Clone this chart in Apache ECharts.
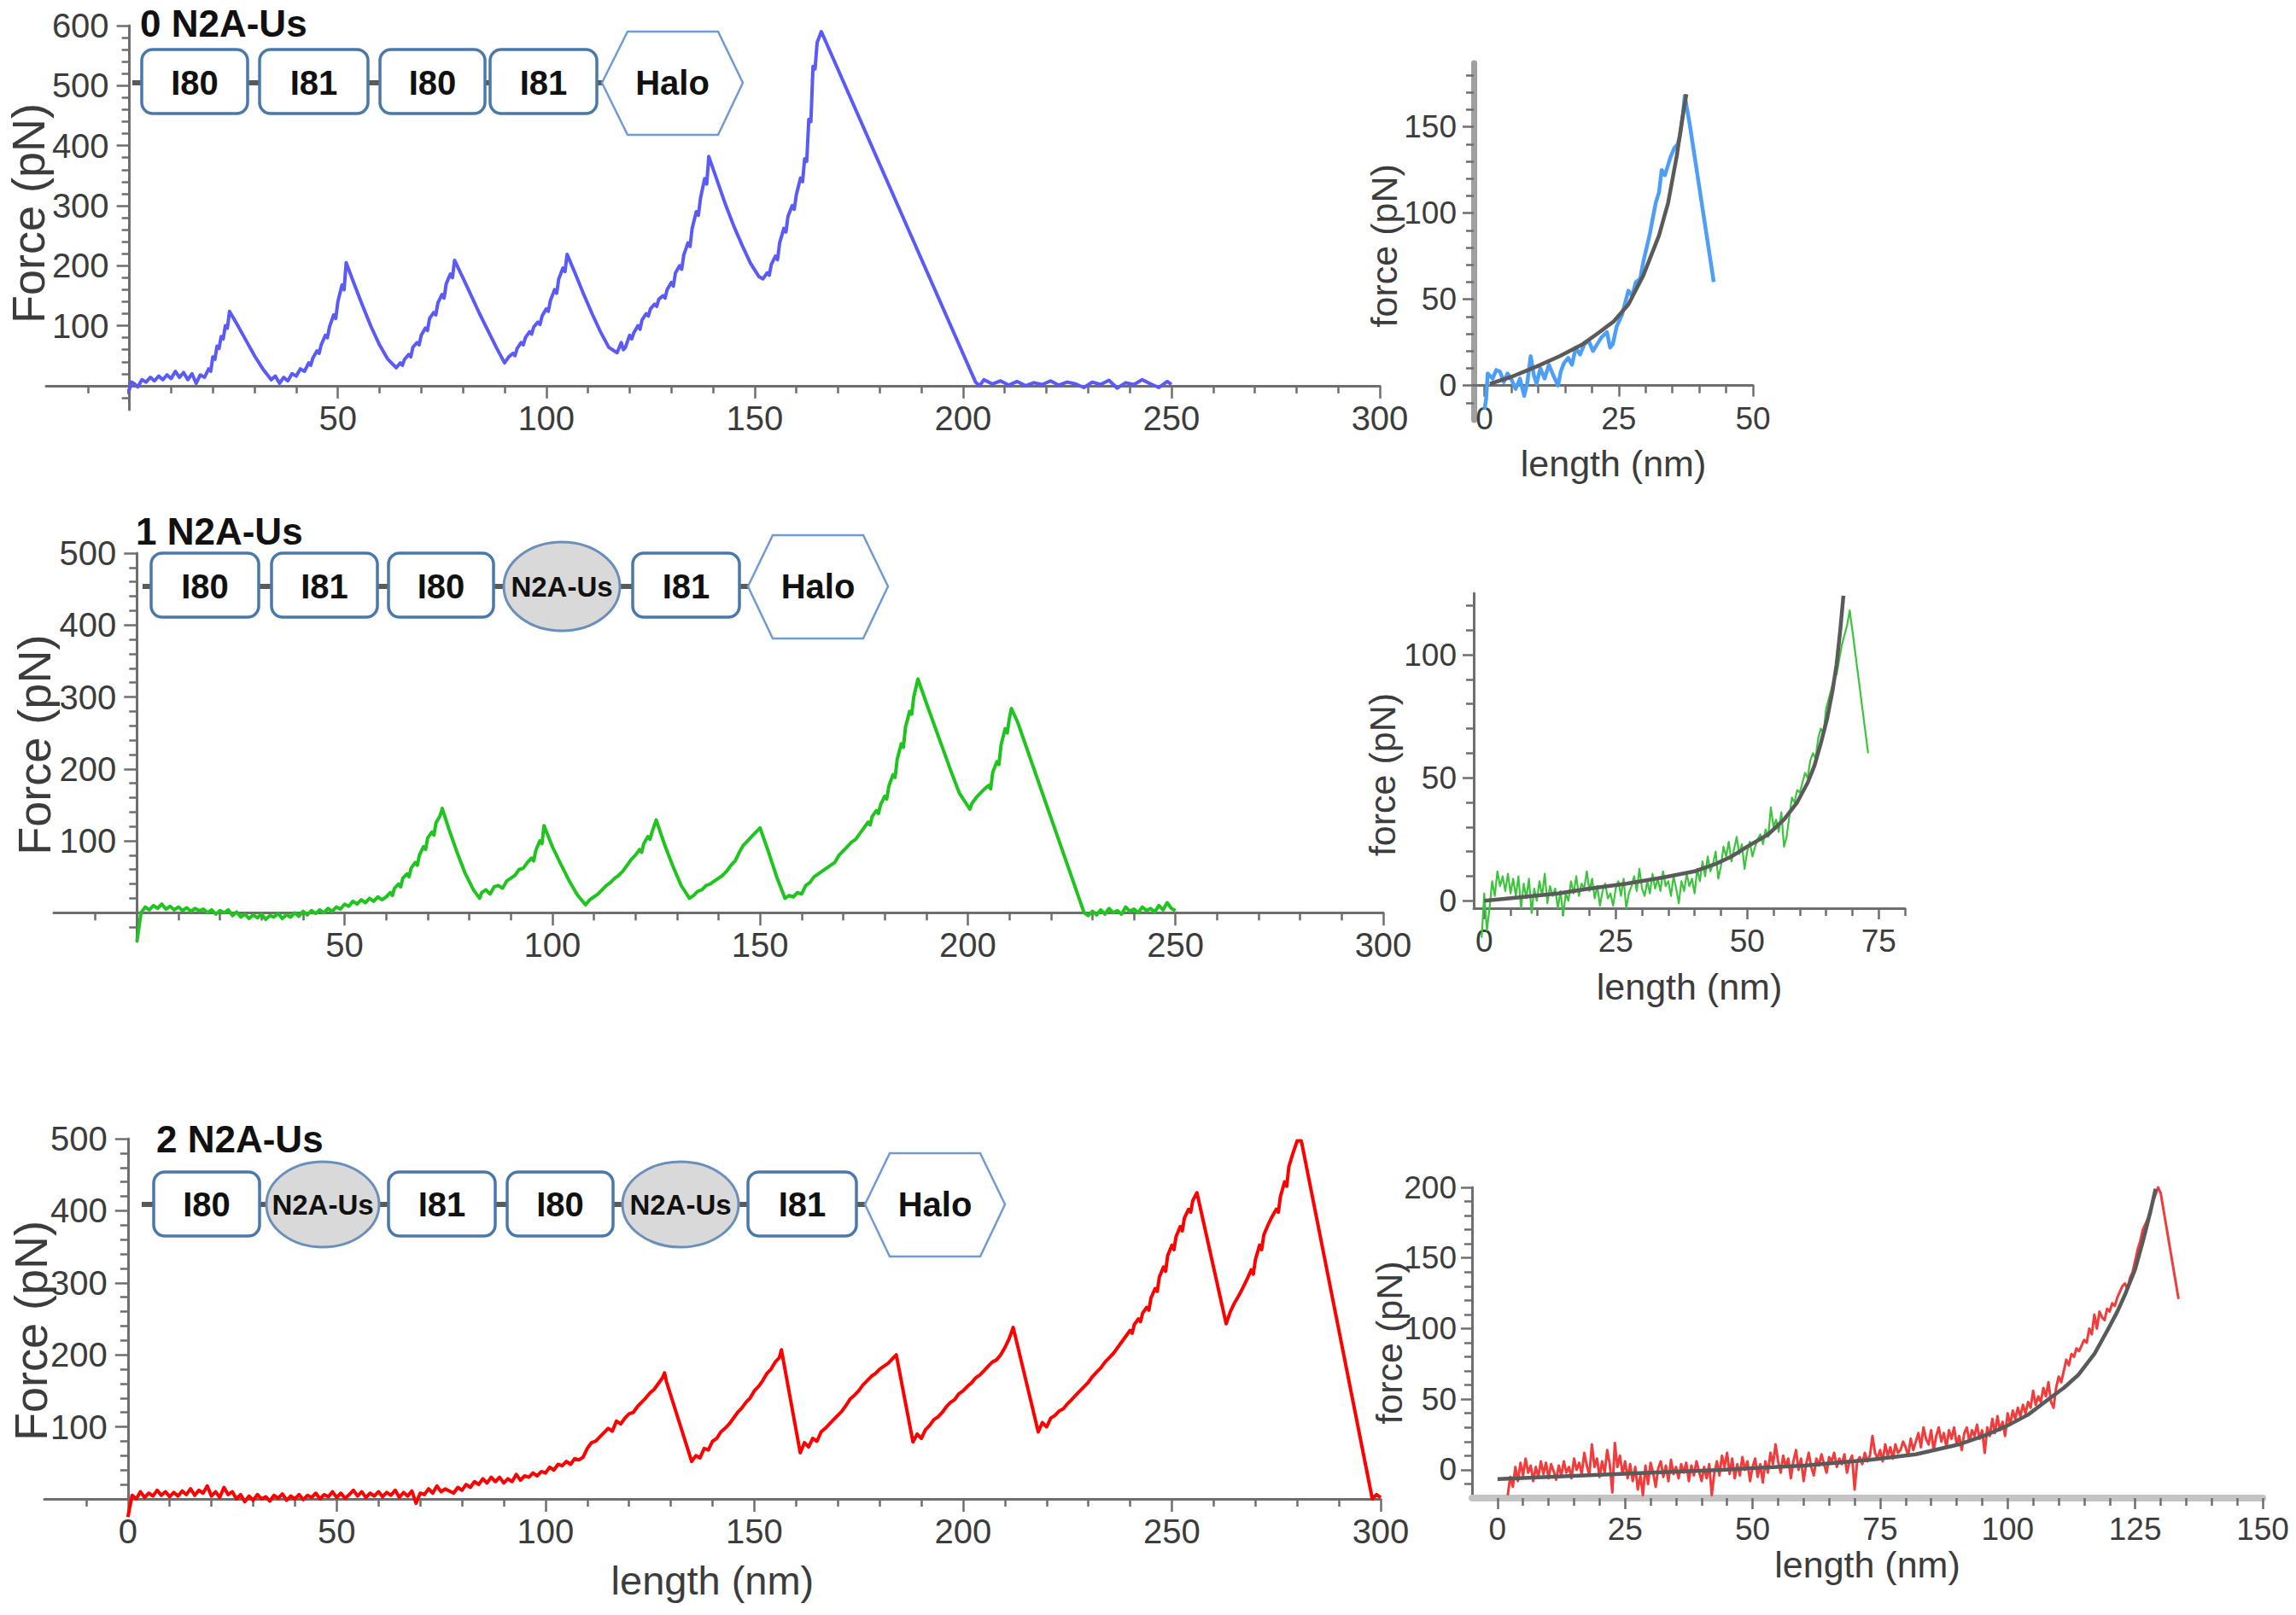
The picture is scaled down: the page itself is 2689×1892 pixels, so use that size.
<!DOCTYPE html>
<html>
<head>
<meta charset="utf-8">
<script src="https://cdn.jsdelivr.net/npm/echarts@6/dist/echarts.min.js"></script>
<style>
html,body{margin:0;padding:0;background:#fff;}
#c{width:2689px;height:1892px;}
</style>
</head>
<body>
<div id="c"></div>
<script>
// ---------------- DATA ----------------
// Panel A: 0 N2A-Us full trace  [length nm, force pN]
const traceZeroUs = [[-2,-26],[-1,-14],[0,-6],[0.5,6],[1,4],[2,-2],[3,10],[4,6],[5,14],[6,8],[7,16],[8,10],[9,18],[10,12],[11,24],[12,14],[13,22],[14,10],[15,20],[16,4],[17,18],[18,14],[19,28],[19.5,24],[20,48],[20.5,44],[21,66],[21.5,62],[22,82],[22.5,78],[23,100],[23.5,96],[24,124],[26,100],[28,75],[30,50],[32,28],[34,10],[35,16],[36,4],[37,14],[38,8],[39,20],[40,16],[41,28],[42,24],[43,38],[43.5,34],[44,46],[45,58],[45.5,54],[46,68],[47,84],[47.5,80],[48,98],[49,118],[49.5,112],[50,140],[51,168],[51.5,160],[52,205],[54,168],[56,132],[58,98],[60,68],[62,44],[64,30],[65,38],[65.5,34],[66,44],[67,52],[67.5,48],[68,64],[69,72],[69.5,68],[70,84],[71,96],[71.5,92],[72,112],[73,122],[73.5,118],[74,138],[75,152],[75.5,146],[76,170],[77,186],[77.5,180],[78,209],[80,180],[82,150],[84,120],[86,92],[88,64],[90,38],[91,48],[92,54],[92.5,50],[93,62],[94,72],[94.5,68],[95,80],[96,90],[96.5,86],[97,98],[98,106],[98.5,102],[99,116],[100,128],[100.5,124],[101,142],[102,160],[102.5,154],[103,178],[104,196],[104.5,190],[105,219],[107,186],[109,152],[111,120],[113,90],[115,64],[117,55],[118,72],[118.5,60],[119,64],[120,84],[120.5,78],[121,88],[122,100],[122.5,94],[123,110],[124,120],[124.5,116],[125,128],[126,136],[126.5,132],[127,144],[128,150],[128.5,146],[129,160],[130,172],[130.5,166],[131,188],[132,200],[132.5,194],[133,218],[134,238],[134.5,232],[135,262],[136,290],[136.5,284],[137,312],[138,345],[138.5,336],[139,382],[141,342],[143,302],[145,266],[147,234],[149,204],[151,182],[152,178],[153,188],[153.5,184],[154,202],[155,216],[155.5,210],[156,238],[157,262],[157.5,256],[158,282],[159,300],[159.5,294],[160,318],[161,346],[161.5,340],[162,378],[162.5,374],[163,444],[163.5,440],[164,532],[164.5,528],[165,572],[166,590],[203,6],[204,0],[205,10],[207,3],[209,8],[211,1],[213,7],[215,0],[217,5],[219,2],[221,8],[223,1],[225,6],[227,3],[229,-3],[231,6],[233,2],[235,9],[237,-4],[239,5],[241,2],[243,10],[245,3],[247,-3],[249,7],[250,2]];
// Panel A inset: single unfolding event + WLC fit
const insetZeroUs = [[0,-14],[0.3,-8],[0.6,7],[1.5,4],[2.2,9],[2.9,8],[3.6,2],[4.3,7],[5.1,3],[5.8,-2],[6.6,4],[7.4,-6],[8,2],[8.6,17],[9.2,6],[9.7,1],[10.4,10],[11.2,4],[12,12],[12.8,6],[13.7,0],[14.2,8],[14.8,13],[15.6,16],[16.3,12],[17,22],[17.8,18],[18.6,24],[19.4,26],[20.2,20],[21,24],[21.8,28],[22.8,31],[23.4,22],[23.9,24],[24.6,34],[25.6,41],[26.2,48],[26.8,55],[27.5,52],[28.2,60],[29,62],[29.6,72],[30.2,80],[30.8,88],[31.4,98],[31.9,106],[32.5,112],[33,125],[33.6,122],[34.2,128],[34.7,133],[35.4,138],[36,140],[36.4,145],[37,158],[37.3,168],[38.2,152],[42.7,60]];
const fitZeroUs = [[1,1],[5,5],[9.7,11],[14,17],[18.3,24],[21,30],[24,37],[26.8,47],[29.6,64],[32.5,87],[34.2,106],[35.8,133],[37,158],[37.6,169]];

// Panel B: 1 N2A-Us
const traceOneUs = [[0,-40],[0.5,-20],[1,0],[2,8],[3,4],[4,10],[5,6],[6,12],[7,5],[8,9],[9,4],[10,8],[11,3],[12,7],[13,2],[14,6],[15,3],[16,5],[17,0],[18,4],[19,-2],[20,3],[21,0],[22,4],[23,-4],[24,1],[25,-6],[26,-2],[27,-8],[28,-3],[29,-7],[30,-2],[31,-9],[32,-4],[33,-6],[34,-1],[35,-8],[36,-3],[37,-6],[38,0],[39,-5],[40,2],[41,-3],[42,3],[43,-1],[44,4],[45,0],[46,6],[47,2],[48,8],[49,5],[50,12],[51,9],[52,16],[53,12],[54,18],[55,14],[56,20],[57,16],[58,22],[59,18],[60,22],[61,28],[61.5,24],[62,34],[63,40],[63.5,36],[64,48],[65,54],[65.5,50],[66,62],[67,70],[67.5,66],[68,80],[69,92],[69.5,88],[70,104],[71,112],[71.5,108],[72,125],[73,135],[73.5,145],[75,118],[77,85],[79,55],[81,32],[82.5,20],[83,28],[84,32],[85,26],[86,36],[87,38],[88,34],[89,44],[90,48],[91,52],[92,60],[93,62],[94,70],[95,76],[95.5,72],[96,86],[97,100],[97.5,96],[98,121],[100,92],[102,68],[104,45],[106,25],[108,11],[109,18],[110,22],[111,26],[112,32],[113,38],[114,42],[115,48],[116,52],[117,58],[118,66],[119,74],[120,80],[121,88],[121.5,84],[122,96],[123,106],[123.5,102],[124,112],[125,129],[127,95],[129,65],[131,38],[133,20],[134,24],[135,30],[136,32],[137,38],[138,40],[139,44],[140,48],[141,52],[142,58],[143,66],[144,72],[145,84],[146,94],[147,100],[148,106],[149,112],[150,118],[152,85],[154,50],[156,20],[157,24],[158,22],[159,28],[160,26],[161,38],[162,42],[163,50],[164,54],[165,58],[166,62],[167,66],[168,70],[169,80],[170,86],[171,92],[172,98],[173,102],[174,110],[175,118],[176,126],[176.5,122],[177,134],[178,142],[178.5,138],[179,150],[180,162],[180.5,158],[181,176],[182,192],[182.5,188],[183,213],[184,235],[184.5,230],[185,258],[186,280],[186.5,276],[187,300],[188,325],[190,292],[192,260],[194,228],[196,196],[198,166],[200.5,144],[201,152],[202,160],[203,166],[204,172],[205,177],[205.5,172],[206,195],[207,210],[207.5,206],[208,233],[209,256],[209.5,250],[210,270],[210.5,284],[212,265],[228,0],[229,-4],[230,2],[231,-3],[232,4],[233,-2],[234,6],[235,0],[236,3],[237,-2],[238,8],[239,2],[240,5],[241,0],[242,8],[243,3],[244,6],[245,1],[246,10],[247,4],[248,14],[249,6],[250,3]];
const insetOneUs = [[-0.5,-15],[0,3],[0.5,-12],[1,-3],[1.5,8],[2,2],[2.5,12],[3,6],[3.5,10],[4,4],[4.5,11],[5,3],[5.5,9],[6,2],[6.5,10],[7,-3],[7.5,7],[8,1],[8.5,9],[9,-5],[9.5,5],[10,0],[10.5,8],[11,2],[11.5,11],[12,-1],[12.5,6],[13,2],[13.5,5],[14,-3],[14.5,4],[15,-6],[15.5,3],[16,0],[16.5,8],[17,3],[17.5,10],[18,2],[18.5,7],[19,5],[19.5,12],[20,4],[20.5,9],[21,1],[21.5,6],[22,-2],[22.5,4],[23,7],[23.5,1],[24,3],[24.5,-2],[25,5],[25.5,8],[26,2],[26.5,9],[27,-3],[27.5,3],[28,6],[28.5,10],[29,4],[29.5,13],[30,5],[30.5,2],[31,8],[31.5,3],[32,11],[32.5,5],[33,9],[33.5,4],[34,12],[34.5,6],[35,8],[35.5,2],[36,10],[36.5,5],[37,-1],[37.5,8],[38,4],[38.5,11],[39,6],[39.5,9],[40,3],[40.5,13],[41,8],[41.5,16],[42,10],[42.5,18],[43,12],[43.5,15],[44,20],[44.5,9],[45,14],[45.5,22],[46,18],[46.5,24],[47,16],[47.5,21],[48,26],[48.5,19],[49,23],[49.5,13],[50,20],[50.5,24],[51,18],[51.5,22],[52,25],[52.5,27],[53,23],[53.5,29],[54,26],[54.5,38],[55,30],[55.5,33],[56,28],[56.5,36],[57,22],[57.5,26],[58,34],[58.5,42],[59,40],[59.5,45],[60,44],[60.5,48],[61,52],[61.5,50],[62,57],[62.5,60],[63,58],[63.5,66],[64,70],[64.5,68],[65,78],[65.5,82],[66,86],[66.5,90],[67,92],[67.5,98],[68,104],[68.5,108],[69,112],[69.5,118],[70,110],[73,60]];
const fitOneUs = [[0,0],[7,1.5],[14,3],[20,5],[27,7],[34,9.5],[40,12],[44,15],[47,18],[50,22],[54,27],[57,33],[59.5,40],[61.5,48],[62.8,55],[64,64],[65.2,74],[66.2,85],[67,96],[67.7,110],[68.3,124]];

// Panel C: 2 N2A-Us
const traceTwoUs = [[0,-25],[0.5,-10],[1,5],[2,0],[3,10],[4,2],[5,8],[6,4],[7,12],[8,5],[9,10],[10,3],[11,9],[12,4],[13,11],[14,6],[15,14],[16,5],[17,12],[18,8],[19,18],[20,4],[21,10],[22,2],[23,16],[24,6],[25,10],[26,0],[27,6],[28,-4],[29,4],[30,-2],[31,6],[32,0],[33,3],[34,-3],[35,5],[36,1],[37,7],[38,-2],[39,4],[40,0],[41,6],[42,-1],[43,5],[44,2],[45,8],[46,0],[47,6],[48,3],[49,10],[50,2],[51,8],[52,1],[53,6],[54,12],[55,4],[56,10],[57,2],[58,8],[59,4],[60,10],[61,3],[62,9],[63,5],[64,12],[65,2],[66,9],[67,4],[68,11],[69,-6],[70,8],[71,6],[72,14],[73,8],[74,18],[75,10],[76,14],[77,11],[78,8],[79,16],[80,12],[81,20],[82,16],[83,24],[84,20],[85,28],[86,22],[87,30],[88,24],[89,30],[90,22],[91,28],[92,24],[93,34],[94,26],[95,32],[96,30],[97,36],[98,32],[99,38],[100,36],[101,44],[102,40],[103,48],[104,46],[105,52],[106,48],[107,56],[108,54],[109,58],[110,70],[111,78],[112,80],[113,86],[114,92],[115,98],[116,94],[117,108],[118,104],[119,112],[120,118],[121,120],[122,128],[123,134],[124,140],[125,147],[126,152],[127,160],[128,168],[128.5,175],[129,162],[135,52],[136,60],[137,57],[138,70],[139,68],[140,80],[141,84],[142,93],[143,98],[144,104],[145,112],[146,120],[147,126],[148,134],[149,140],[150,150],[151,156],[152,164],[153,174],[154,180],[155,190],[156,196],[156.5,207],[161,64],[162,78],[163,72],[164,84],[165,80],[166,93],[167,98],[168,104],[169,110],[170,116],[171,122],[172,130],[173,139],[174,144],[175,150],[176,158],[177,164],[178,170],[179,174],[180,180],[181,184],[182,188],[183,194],[184,200],[188,79],[189,90],[190,84],[191,96],[192,102],[193,110],[194,114],[195,120],[196,128],[197,134],[198,138],[199,146],[200,150],[201,156],[202,161],[203,168],[204,172],[205,178],[206,184],[207,190],[208,193],[209,200],[210,210],[211,222],[212,238],[218,93],[219,106],[220,100],[221,112],[222,116],[223,122],[224,125],[225,132],[226,138],[227,144],[228,150],[229,156],[230,162],[231,170],[232,176],[233,182],[234,190],[235,196],[236,202],[237,210],[238,218],[239,226],[240,234],[240.5,230],[241,242],[242,250],[242.5,246],[243,258],[244,266],[244.5,262],[245,279],[246,292],[246.5,288],[247,308],[248,322],[248.5,316],[249,338],[250,352],[250.5,346],[251,364],[252,378],[252.5,372],[253,390],[254,402],[254.5,398],[255,414],[256,425],[263,243],[264,260],[265,272],[266,282],[267,293],[268,305],[269,318],[269.5,312],[270,332],[271,352],[271.5,346],[272,366],[273,380],[274,392],[275,402],[275.5,398],[276,420],[277,440],[277.5,434],[278,461],[279,480],[280,497],[281,497],[298,0],[299,6],[300,2]];
const insetTwoUs = [[2,-18],[2.5,-5],[3,-12],[3.5,2],[4,-8],[4.5,5],[5,-4],[5.5,8],[6,-2],[6.5,3],[7,-8],[7.5,2],[8,-5],[8.5,6],[9,-3],[9.5,5],[10,-6],[10.5,4],[11,-1],[11.5,-7],[12,3],[12.5,-4],[13,6],[13.5,-2],[14,2],[14.5,-6],[15,8],[15.5,0],[16,5],[16.5,-3],[17,12],[17.5,3],[18,-4],[18.5,18],[19,2],[19.5,8],[20,-5],[20.5,6],[21,-2],[21.5,14],[22,4],[22.5,-16],[23,19],[23.5,2],[24,10],[24.5,-3],[25,6],[25.5,-6],[26,4],[26.5,-8],[27,2],[27.5,-14],[28,-4],[28.5,-18],[29,3],[29.5,-10],[30,5],[30.5,-2],[31,-12],[31.5,1],[32,6],[32.5,-5],[33,3],[33.5,-8],[34,7],[34.5,-3],[35,2],[35.5,-6],[36,4],[36.5,-2],[37,5],[37.5,-8],[38,3],[38.5,-4],[39,6],[39.5,-1],[40,-8],[40.5,2],[41,-6],[41.5,4],[42,-18],[42.5,-2],[43,6],[43.5,-4],[44,10],[44.5,2],[45,12],[45.5,-3],[46,8],[46.5,-6],[47,4],[47.5,-4],[48,9],[48.5,0],[49,6],[49.5,-8],[50,2],[50.5,8],[51,-5],[51.5,4],[52,-9],[52.5,6],[53,-2],[53.5,12],[54,4],[54.5,18],[55,6],[55.5,-2],[56,10],[56.5,2],[57,8],[57.5,-6],[58,6],[58.5,14],[59,0],[59.5,8],[60,-8],[60.5,4],[61,12],[61.5,2],[62,-4],[62.5,8],[63,3],[63.5,11],[64,4],[64.5,-2],[65,9],[65.5,6],[66,12],[66.5,2],[67,8],[67.5,4],[68,11],[68.5,-2],[69,6],[69.5,10],[70,-14],[70.5,6],[71,9],[71.5,4],[72,12],[72.5,6],[73,10],[73.5,24],[74,12],[74.5,8],[75,14],[75.5,6],[76,18],[76.5,10],[77,16],[77.5,8],[78,18],[78.5,12],[79,14],[79.5,20],[80,16],[80.5,10],[81,22],[81.5,14],[82,20],[82.5,26],[83,16],[83.5,30],[84,22],[84.5,18],[85,28],[85.5,14],[86,24],[86.5,30],[87,20],[87.5,26],[88,16],[88.5,28],[89,22],[89.5,30],[90,18],[90.5,24],[91,14],[91.5,26],[92,30],[92.5,20],[93,28],[93.5,24],[94,32],[94.5,22],[95,28],[95.5,12],[96,30],[96.5,24],[97,36],[97.5,26],[98,38],[98.5,28],[99,34],[99.5,24],[100,40],[100.5,32],[101,42],[101.5,36],[102,44],[102.5,38],[103,46],[103.5,40],[104,48],[104.5,44],[105,56],[105.5,46],[106,52],[106.5,48],[107,58],[107.5,52],[108,62],[108.5,48],[109,44],[109.5,58],[110,66],[110.5,62],[111,70],[111.5,78],[112,74],[112.5,82],[113,80],[113.5,86],[114,84],[114.5,88],[115,92],[115.5,90],[116,100],[116.5,96],[117,110],[117.5,100],[118,112],[118.5,108],[119,106],[119.5,114],[120,112],[120.5,118],[121,116],[121.5,122],[122,126],[122.5,130],[123,132],[123.5,128],[124,136],[124.5,140],[125,148],[125.5,156],[126,162],[126.5,170],[127,174],[127.5,178],[128,184],[128.5,190],[129,195],[129.5,200],[130,196],[133.5,121]];
const fitTwoUs = [[0,-6.6],[10,-5],[20,-3.5],[30,-2],[44,0],[60,3],[73,7],[82,11],[90.5,18],[96,25],[99.8,31],[104,39],[108,50],[111,58],[113.8,67],[117,82],[119.6,99],[121.5,112],[123,124],[125,142],[126.6,163],[128,183],[129,199]];

// Tick labels
const mainXLabelsA = [50,100,150,200,250,300];
const mainXLabelsC = [0,50,100,150,200,250,300];
const mainYLabelsA = [100,200,300,400,500,600];
const mainYLabelsBC = [100,200,300,400,500];
const insetXLabelsA = [0,25,50];
const insetXLabelsB = [0,25,50,75];
const insetXLabelsC = [0,25,50,75,100,125,150];
const insetYLabelsA = [0,50,100,150];
const insetYLabelsB = [0,50,100];
const insetYLabelsC = [0,50,100,150,200];

// Titles and domain names
const panelTitles = ['0 N2A-Us','1 N2A-Us','2 N2A-Us'];
const domainsA = ['I80','I81','I80','I81','Halo'];
const domainsB = ['I80','I81','I80','N2A-Us','I81','Halo'];
const domainsC = ['I80','N2A-Us','I81','I80','N2A-Us','I81','Halo'];

// ---------------- helpers ----------------
const FONT = 'Liberation Sans, Arial, sans-serif';
function steps(from, to, step, skip) {
  const out = [];
  for (let v = from; v <= to + 1e-9; v += step) {
    const r = Math.round(v * 1000) / 1000;
    if (!skip || skip.indexOf(r) < 0) out.push(r);
  }
  return out;
}

// Each panel: an outer frame (full axis extent incl. negative stubs, minor ticks)
// and an inner grid (labelled axes starting where labels sit).
const panels = [
  {frame:{left:54, top:30, width:1562, height:450}, fx:[-20,300], fy:[-40,600], ix:[0,300], iy:[0,600],
   xOnZero:true, yOnZero:true,
   xMaj:mainXLabelsA, xLab:mainXLabelsA, xMin:steps(-10,290,10,[0,50,100,150,200,250]),
   yMaj:mainYLabelsA, yLab:mainYLabelsA, yMin:steps(-20,580,20,[0,100,200,300,400,500]),
   majLen:15, minLen:9, fs:40, nfs:54, xMargin:18, yMargin:24, yName:'Force (pN)', yNameGap:92, yNamePad:[0,18,0,0]},
  {frame:{left:1726, top:74, width:327, height:418}, fx:[-2,50], fy:[-20,187], ix:[-2,50], iy:[0,187],
   xOnZero:true, yOnZero:false,
   xMaj:insetXLabelsA, xLab:insetXLabelsA, xMin:steps(5,45,5,[25]),
   yMaj:insetYLabelsA, yLab:insetYLabelsA, yMin:steps(-10,180,10,[0,50,100,150]),
   majLen:13, minLen:9, fs:37, nfs:43, xMargin:20, yMargin:20, yName:'force (pN)', yNameGap:84, yNamePad:[0,50,0,0],
   xName:'length (nm)', xNameGap:70, yCol:'#a0a0a0', yW:7},
  {frame:{left:63, top:648, width:1557, height:455}, fx:[-20,300], fy:[-40,500], ix:[0,300], iy:[0,500],
   xOnZero:true, yOnZero:true,
   xMaj:mainXLabelsA, xLab:mainXLabelsA, xMin:steps(-10,290,10,[0,50,100,150,200,250]),
   yMaj:mainYLabelsBC, yLab:mainYLabelsBC, yMin:steps(-20,480,20,[0,100,200,300,400]),
   majLen:15, minLen:9, fs:40, nfs:54, xMargin:18, yMargin:24, yName:'Force (pN)', yNameGap:93, yNamePad:[0,28,0,0]},
  {frame:{left:1726, top:695, width:505, height:369}, fx:[-2,80], fy:[-3,125], ix:[-2,80], iy:[-3,125],
   xOnZero:false, yOnZero:false,
   xMaj:insetXLabelsB, xLab:insetXLabelsB, xMin:steps(5,80,5,[25,50,75]),
   yMaj:insetYLabelsB, yLab:insetYLabelsB, yMin:steps(10,120,10,[50,100]),
   majLen:13, minLen:9, fs:37, nfs:43, xMargin:20, yMargin:20, yName:'force (pN)', yNameGap:86, yNamePad:[0,56,0,0],
   xName:'length (nm)', xNameGap:70},
  {frame:{left:52, top:1334, width:1565, height:422}, fx:[-20,300], fy:[0,500], ix:[0,300], iy:[0,500],
   xOnZero:true, yOnZero:true,
   xMaj:mainXLabelsC, xLab:mainXLabelsC, xMin:steps(-10,290,10,[0,50,100,150,200,250]),
   yMaj:mainYLabelsBC, yLab:mainYLabelsBC, yMin:steps(20,480,20,[100,200,300,400]),
   majLen:15, minLen:9, fs:40, nfs:54, xnfs:47, xMargin:18, yMargin:24, yName:'Force (pN)', yNameGap:87, yNamePad:[0,28,0,0],
   xName:'length (nm)', xNameGap:72, xNamePad:[0,98,0,0]},
  {frame:{left:1724, top:1391, width:926, height:364}, fx:[-5,150], fy:[-20,200], ix:[-5,150], iy:[-20,200],
   xOnZero:false, yOnZero:false,
   xMaj:insetXLabelsC, xLab:insetXLabelsC, xMin:steps(5,145,5,[25,50,75,100,125]),
   yMaj:insetYLabelsC, yLab:insetYLabelsC, yMin:steps(-10,190,10,[0,50,100,150]),
   majLen:13, minLen:9, fs:37, nfs:43, xMargin:18, yMargin:18, yName:'force (pN)', yNameGap:76,
   xName:'length (nm)', xNameGap:56, xCol:'#c4c4c4', xW:8}
];

const LINE = '#6e6e6e', LAB = '#3c3c3c';
const grids = [], xAxes = [], yAxes = [];
panels.forEach((p, k) => {
  const f = p.frame;
  const sx = f.width / (p.fx[1] - p.fx[0]), sy = f.height / (p.fy[1] - p.fy[0]);
  const inner = {left: f.left + (p.ix[0] - p.fx[0]) * sx, width: (p.ix[1] - p.ix[0]) * sx,
                 top: f.top + (p.fy[1] - p.iy[1]) * sy, height: (p.iy[1] - p.iy[0]) * sy};
  const gi = 2 * k, gf = 2 * k + 1;
  grids.push(Object.assign({containLabel:false, outerBoundsMode:'none'}, inner));
  grids.push(Object.assign({containLabel:false, outerBoundsMode:'none'}, f));
  // inner, labelled axes
  xAxes.push({type:'value', gridIndex:gi, position:'bottom', min:p.ix[0], max:p.ix[1],
    axisLine:{show:false, onZero:false},
    axisTick:{show:true, customValues:p.xMaj, length:p.majLen, lineStyle:{color:LINE, width:2.5}},
    axisLabel:{show:true, customValues:p.xLab, margin:p.xMargin, fontSize:p.fs, color:LAB, fontFamily:FONT},
    splitLine:{show:false},
    name:p.xName||'', nameLocation:'middle', nameGap:p.xNameGap||0, nameMoveOverlap:false,
    nameTextStyle:{fontSize:p.xnfs||p.nfs, color:LAB, fontFamily:FONT, padding:p.xNamePad||0}});
  yAxes.push({type:'value', gridIndex:gi, position:'left', min:p.iy[0], max:p.iy[1],
    axisLine:{show:false, onZero:false},
    axisTick:{show:true, customValues:p.yMaj, length:p.majLen, lineStyle:{color:LINE, width:2.5}},
    axisLabel:{show:true, customValues:p.yLab, margin:p.yMargin, fontSize:p.fs, color:LAB, fontFamily:FONT},
    splitLine:{show:false},
    name:p.yName, nameLocation:'middle', nameGap:p.yNameGap, nameRotate:90, nameMoveOverlap:false,
    nameTextStyle:{fontSize:p.nfs, color:LAB, fontFamily:FONT, padding:p.yNamePad||0}});
  // frame axes: full axis lines and minor ticks
  xAxes.push({type:'value', gridIndex:gf, position:'bottom', min:p.fx[0], max:p.fx[1],
    axisLine:{show:true, onZero:p.xOnZero, lineStyle:{color:p.xCol||LINE, width:p.xW||3}},
    axisTick:{show:true, customValues:p.xMin, length:p.minLen, lineStyle:{color:LINE, width:2.5}},
    axisLabel:{show:false}, splitLine:{show:false}});
  yAxes.push({type:'value', gridIndex:gf, position:'left', min:p.fy[0], max:p.fy[1],
    axisLine:{show:true, onZero:p.yOnZero, lineStyle:{color:p.yCol||LINE, width:p.yW||3}},
    axisTick:{show:true, customValues:p.yMin, length:p.minLen, lineStyle:{color:LINE, width:2.5}},
    axisLabel:{show:false}, splitLine:{show:false}});
});

function line(name, k, data, color, width, z) {
  return {name:name, type:'line', xAxisIndex:2*k, yAxisIndex:2*k, data:data,
    showSymbol:false, symbol:'none', clip:false, silent:true, z:z||2,
    lineStyle:{color:color, width:width, join:'round'}, itemStyle:{color:color}};
}
const series = [
  line('0 N2A-Us', 0, traceZeroUs, '#5a5af6', 4),
  line('0 N2A-Us event', 1, insetZeroUs, '#4d9ff5', 4.5),
  line('0 N2A-Us fit', 1, fitZeroUs, '#5a5a5a', 4.5, 3),
  line('1 N2A-Us', 2, traceOneUs, '#1fc41f', 4),
  line('1 N2A-Us event', 3, insetOneUs, '#3cc43c', 2.2),
  line('1 N2A-Us fit', 3, fitOneUs, '#5a5a5a', 4.5, 3),
  line('2 N2A-Us', 4, traceTwoUs, '#ff0000', 4),
  line('2 N2A-Us event', 5, insetTwoUs, '#f23c3c', 3),
  line('2 N2A-Us fit', 5, fitTwoUs, '#5a5a5a', 4.5, 3)
];

// ---------------- domain diagrams (layout) ----------------
const diagramLayout = [
  {title:[164,27], y:97, x0:155, top:58, h:75,
   shapes:[['box',166,290],['box',304,431],['box',445,568],['box',574,699],['hex',705,870,735,841,37,158]],
   names:domainsA, label:panelTitles[0]},
  {title:[159,622], y:687, x0:167, top:648, h:75,
   shapes:[['box',177,303],['box',318,442],['box',455,578],['ell',658,68,52],['box',741,866],['hex',876,1040,905,1011,627,748]],
   names:domainsB, label:panelTitles[1]},
  {title:[183,1334], y:1411, x0:166, top:1373, h:75,
   shapes:[['box',180,304],['ell',378,66,50],['box',455,580],['box',594,718],['ell',797,68,50],['box',876,1003],['hex',1013,1177,1042,1148,1351,1472]],
   names:domainsC, label:panelTitles[2]}
];
const graphic = [];
const BLUE = '#4a78aa';
diagramLayout.forEach(d => {
  graphic.push({type:'text', x:d.title[0], y:d.title[1], z:100,
    style:{text:d.label, fill:'#111', fontSize:44, fontWeight:'bold', fontFamily:FONT, align:'left', verticalAlign:'middle'}});
  const last = d.shapes[d.shapes.length-1];
  graphic.push({type:'line', z:100, shape:{x1:d.x0, y1:d.y, x2:last[1], y2:d.y}, style:{stroke:'#5a5a5a', lineWidth:6}});
  d.shapes.forEach((s, i) => {
    const name = d.names[i];
    let cx;
    if (s[0] === 'box') {
      cx = (s[1] + s[2]) / 2;
      graphic.push({type:'rect', z:101, shape:{x:s[1], y:d.top, width:s[2]-s[1], height:d.h, r:13},
        style:{fill:'#fff', stroke:BLUE, lineWidth:3.5}});
      graphic.push({type:'text', z:102, x:cx, y:d.y,
        style:{text:name, fill:'#111', fontSize:40, fontWeight:'bold', fontFamily:FONT, align:'center', verticalAlign:'middle'}});
    } else if (s[0] === 'ell') {
      cx = s[1];
      graphic.push({type:'ellipse', z:101, shape:{cx:s[1], cy:d.y, rx:s[2], ry:s[3]},
        style:{fill:'#d9d9d9', stroke:'#6a8fba', lineWidth:3}});
      graphic.push({type:'text', z:102, x:cx, y:d.y,
        style:{text:name, fill:'#111', fontSize:33, fontWeight:'bold', fontFamily:FONT, align:'center', verticalAlign:'middle'}});
    } else {
      const xl = s[1], xr = s[2], xa = s[3], xb = s[4], yt = s[5], yb = s[6];
      cx = (xl + xr) / 2;
      graphic.push({type:'polygon', z:101,
        shape:{points:[[xl,d.y],[xa,yt],[xb,yt],[xr,d.y],[xb,yb],[xa,yb]]},
        style:{fill:'#fff', stroke:'#6f9bd0', lineWidth:2.5}});
      graphic.push({type:'text', z:102, x:cx, y:d.y,
        style:{text:name, fill:'#111', fontSize:40, fontWeight:'bold', fontFamily:FONT, align:'center', verticalAlign:'middle'}});
    }
  });
});

const chart = echarts.init(document.getElementById('c'), null, {renderer:'svg', width:2689, height:1892});
chart.setOption({
  animation:false,
  backgroundColor:'#ffffff',
  textStyle:{fontFamily:FONT},
  grid: grids,
  xAxis: xAxes,
  yAxis: yAxes,
  series: series,
  graphic: graphic
});
</script>
</body>
</html>
